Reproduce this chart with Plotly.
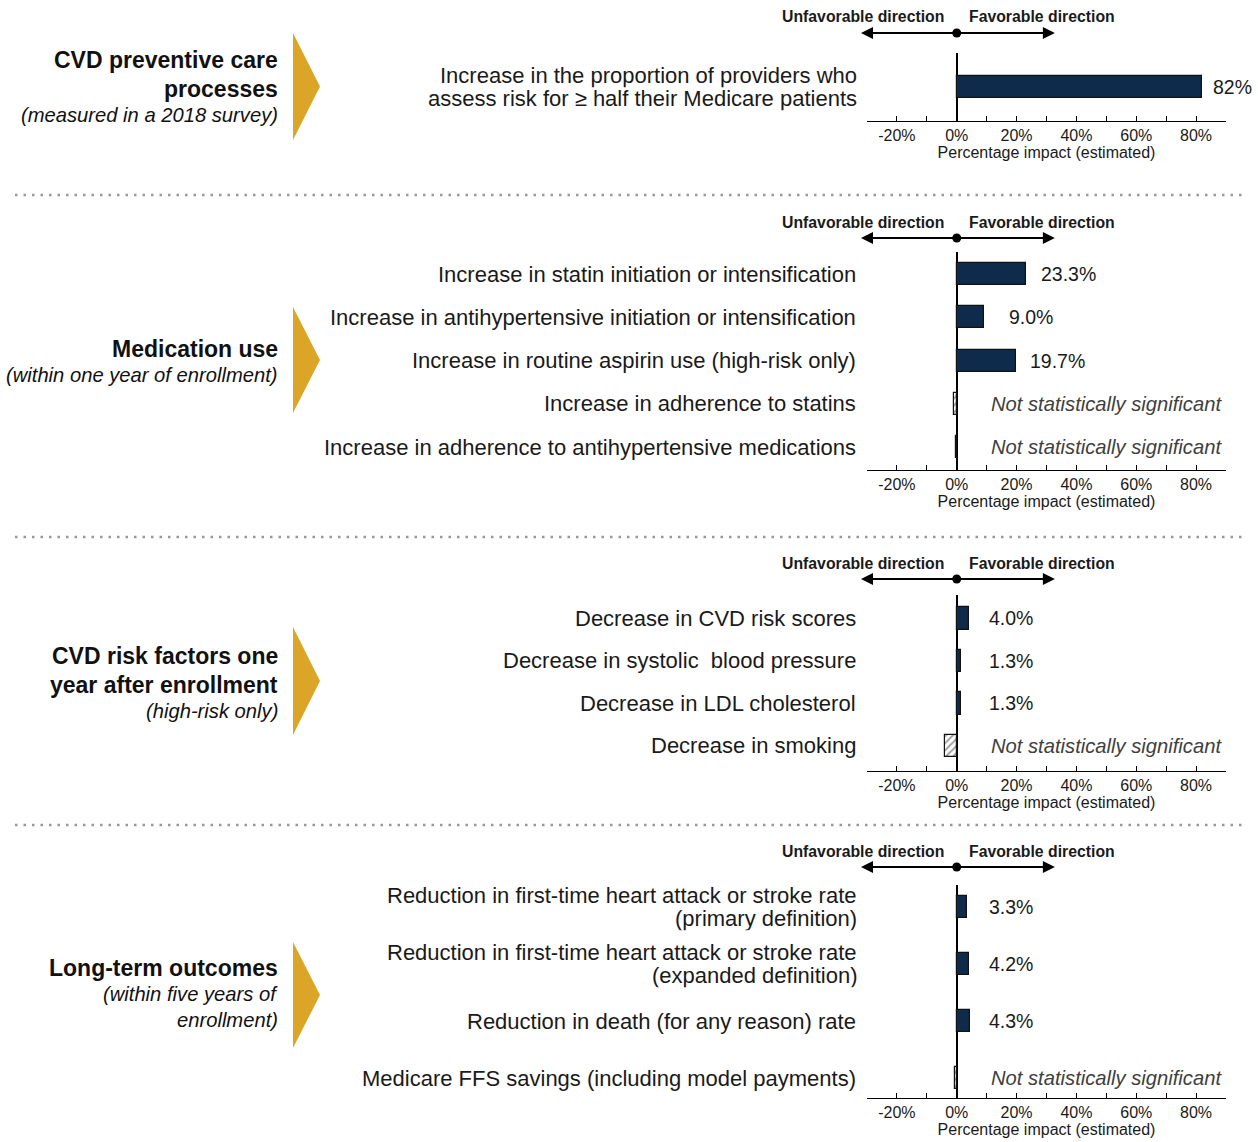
import plotly.graph_objects as go

W, H = 1258, 1142

# ---------------- data ----------------
sec_titles = [
    ["CVD preventive care", "processes"],
    ["Medication use"],
    ["CVD risk factors one", "year after enrollment"],
    ["Long-term outcomes"],
]
sec_notes = [
    ["(measured in a 2018 survey)"],
    ["(within one year of enrollment)"],
    ["(high-risk only)"],
    ["(within five years of", "enrollment)"],
]

p1_labels = ["Increase in the proportion of providers who<br>assess risk for ≥ half their Medicare patients"]
p1_values = [82]
p1_sig = [True]
p1_text = ["82%"]

p2_labels = [
    "Increase in statin initiation or intensification",
    "Increase in antihypertensive initiation or intensification",
    "Increase in routine aspirin use (high-risk only)",
    "Increase in adherence to statins",
    "Increase in adherence to antihypertensive medications",
]
p2_values = [23.3, 9.0, 19.7, -0.8, -0.3]
p2_sig = [True, True, True, False, False]
p2_text = ["23.3%", "9.0%", "19.7%", "", ""]

p3_labels = [
    "Decrease in CVD risk scores",
    "Decrease in systolic  blood pressure",
    "Decrease in LDL cholesterol",
    "Decrease in smoking",
]
p3_values = [4.0, 1.3, 1.3, -3.8]
p3_sig = [True, True, True, False]
p3_text = ["4.0%", "1.3%", "1.3%", ""]

p4_labels = [
    "Reduction in first-time heart attack or stroke rate<br>(primary definition)",
    "Reduction in first-time heart attack or stroke rate<br>(expanded definition)",
    "Reduction in death (for any reason) rate",
    "Medicare FFS savings (including model payments)",
]
p4_values = [3.3, 4.2, 4.3, -0.6]
p4_sig = [True, True, True, False]
p4_text = ["3.3%", "4.2%", "4.3%", ""]

x_ticks = list(range(-30, 91, 10))
ns_text = "Not statistically significant"
hdr_left = "Unfavorable direction"
hdr_right = "Favorable direction"
x_title = "Percentage impact (estimated)"

# ---------------- layout geometry (pixels) ----------------
NAVY = "#0f2b4c"
GOLD = "#dba628"
FONT = "Arial, Liberation Sans, sans-serif"
TXT = "#1a1a1a"

panels = [
    dict(labels=p1_labels, values=p1_values, sig=p1_sig, text=p1_text,
         top=53, bot=121, rng=[0.79, -0.79], bw=0.51, hdr=17, arr=33,
         chev=(33, 140), sec_y=87, lab="left", off=3),
    dict(labels=p2_labels, values=p2_values, sig=p2_sig, text=p2_text,
         top=252, bot=470, rng=[4.53, -0.509], bw=0.51, hdr=222, arr=238,
         chev=(307, 413), sec_y=362, lab="right", off=24),
    dict(labels=p3_labels, values=p3_values, sig=p3_sig, text=p3_text,
         top=595, bot=771, rng=[3.59, -0.553], bw=0.52, hdr=563, arr=579,
         chev=(627, 735), sec_y=683, lab="fixed", off=10),
    dict(labels=p4_labels, values=p4_values, sig=p4_sig, text=p4_text,
         top=885, bot=1098, rng=[3.35, -0.386], bw=0.386, hdr=851, arr=867,
         chev=(942, 1048), sec_y=994, lab="fixed", off=10),
]

def py(p):
    return 1 - p / H

def px(p):
    return p / W

X0, X1 = 867, 1226
ROW_FS, ROW_LH = 22, 23.5
SEC_B, SEC_I = 23, 20.2

fig = go.Figure()
annotations = []
shapes = []
layout = dict(
    width=W, height=H, margin=dict(l=0, r=0, t=0, b=0),
    paper_bgcolor="white", plot_bgcolor="white", showlegend=False,
    font=dict(family=FONT, color=TXT), bargap=0,
)

for i, p in enumerate(panels, start=1):
    sx = "" if i == 1 else str(i)
    xa, ya = "x" + sx, "y" + sx
    n = len(p["values"])
    colors = [NAVY if s else "white" for s in p["sig"]]
    shapes_pat = ["" if s else "/" for s in p["sig"]]
    fig.add_trace(go.Bar(
        orientation="h", x=p["values"], y=p["labels"], xaxis=xa, yaxis=ya,
        width=p["bw"],
        marker=dict(color=colors, line=dict(color="#111111", width=1.2),
                    pattern=dict(shape=shapes_pat, fgcolor=NAVY, bgcolor="white",
                                 size=5, solidity=0.4, fillmode="overlay")),
        hoverinfo="skip",
    ))
    layout["xaxis" + sx] = dict(
        domain=[px(X0), px(X1)], range=[-30, 90], anchor=ya,
        tickvals=x_ticks,
        ticktext=[f"{v}%" if v % 20 == 0 else "" for v in x_ticks],
        ticks="inside", ticklen=5, tickcolor="black", tickwidth=1.3,
        showline=True, linecolor="black", linewidth=1.3,
        showgrid=False, zeroline=True, zerolinecolor="black", zerolinewidth=1.5,
        tickfont=dict(size=16, color=TXT, family=FONT),
        title=dict(text=x_title, font=dict(size=16, color=TXT, family=FONT), standoff=0),
        fixedrange=True,
    )
    layout["yaxis" + sx] = dict(
        domain=[py(p["bot"]), py(p["top"])], anchor=xa, type="category",
        range=p["rng"], showline=False, ticks="", showgrid=False, zeroline=False,
        showticklabels=False, fixedrange=True,
    )
    for k in range(n):
        # row label (one annotation per line for tight line spacing)
        parts = p["labels"][k].split("<br>")
        m = len(parts)
        for j, t in enumerate(parts):
            ann = dict(
                x=px(858), y=k, xref="paper", yref=ya, text=t, showarrow=False,
                xanchor="right", yanchor="middle", yshift=((m - 1) / 2 - j) * ROW_LH,
                font=dict(size=ROW_FS, color=TXT, family=FONT))
            if m > 1:
                ann.update(height=ROW_LH - 0.2, valign="middle", borderpad=0)
            annotations.append(ann)
        v = p["values"][k]
        if p["sig"][k]:
            if p["lab"] == "left":
                xpos, anc = v + p["off"], "left"
            elif p["lab"] == "right":
                xpos, anc = v + p["off"], "right"
            else:
                xpos, anc = p["off"], "left"
            annotations.append(dict(
                x=xpos, y=k, xref=xa, yref=ya, text=p["text"][k], showarrow=False,
                xanchor=anc, yanchor="middle", font=dict(size=19.5, color=TXT, family=FONT)))
        else:
            annotations.append(dict(
                x=10.7, y=k, xref=xa, yref=ya, text=f"<i>{ns_text}</i>", showarrow=False,
                xanchor="left", yanchor="middle", font=dict(size=20.2, color="#404040", family=FONT)))
    # direction header
    annotations.append(dict(x=-3.7, y=py(p["hdr"]), xref=xa, yref="paper",
                            text=f"<b>{hdr_left}</b>", showarrow=False, xanchor="right",
                            yanchor="middle", font=dict(size=15.8, color=TXT, family=FONT)))
    annotations.append(dict(x=3.3, y=py(p["hdr"]), xref=xa, yref="paper",
                            text=f"<b>{hdr_right}</b>", showarrow=False, xanchor="left",
                            yanchor="middle", font=dict(size=15.8, color=TXT, family=FONT)))
    annotations.append(dict(x=32.8, y=py(p["arr"]), xref=xa, yref="paper",
                            ax=-32.5, ay=0, axref=xa, ayref="pixel", text="",
                            showarrow=True, arrowside="end+start", arrowhead=2,
                            startarrowhead=2, arrowsize=1.2, startarrowsize=1.2,
                            arrowwidth=2, arrowcolor="black", standoff=0, startstandoff=0))
    shapes.append(dict(type="circle", xref=xa, yref="paper", xsizemode="pixel",
                       ysizemode="pixel", xanchor=0, yanchor=py(p["arr"]),
                       x0=-4.5, x1=4.5, y0=-4.5, y1=4.5, fillcolor="black",
                       line=dict(color="black", width=0)))
    # chevron
    c0, c1 = p["chev"]
    cm = (c0 + c1) / 2
    shapes.append(dict(type="path", xref="paper", yref="paper",
                       path=f"M {px(293)},{py(c0)} L {px(320)},{py(cm)} L {px(293)},{py(c1)} Z",
                       fillcolor=GOLD, line=dict(width=0)))
    # section label, one annotation per line
    lines = [(t, "b") for t in sec_titles[i - 1]] + [(t, "i") for t in sec_notes[i - 1]]
    offs = [0.0]
    for j in range(1, len(lines)):
        offs.append(offs[-1] + (29 if lines[j][1] == "b" else 26))
    mid = (offs[0] + offs[-1]) / 2
    for (t, st), o in zip(lines, offs):
        ly = p["sec_y"] - mid + o
        annotations.append(dict(
            x=px(279), y=py(ly), xref="paper", yref="paper",
            text=f"<{st}>{t}</{st}>", showarrow=False, xanchor="right",
            yanchor="middle", align="right", height=25.9, valign="middle", borderpad=0,
            font=dict(size=SEC_B if st == "b" else SEC_I, color="#111111", family=FONT)))

for yy in [195, 537, 825]:
    shapes.append(dict(type="line", xref="paper", yref="paper", x0=px(15), x1=px(1245),
                       y0=py(yy), y1=py(yy),
                       line=dict(color="#999999", width=2.5, dash="2.5px,6px")))

layout["annotations"] = annotations
layout["shapes"] = shapes
fig.update_layout(**layout)
fig.write_html("out.html", config={"displayModeBar": False},
               post_script="document.body.style.margin='0px';")
